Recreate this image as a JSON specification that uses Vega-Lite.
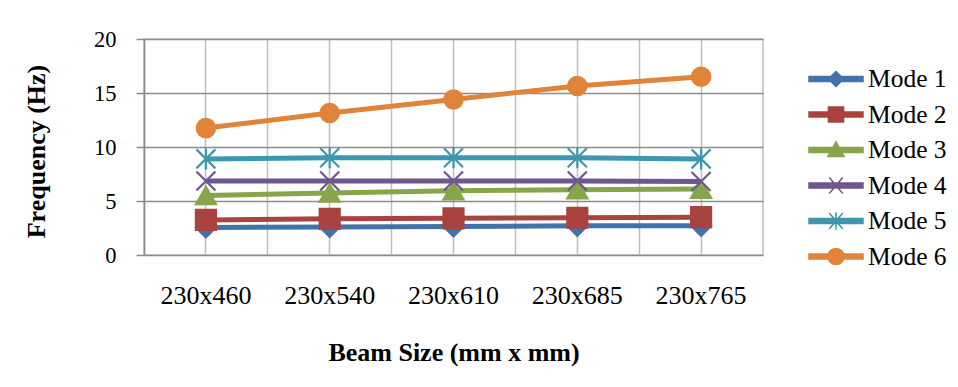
{
  "$schema": "https://vega.github.io/schema/vega-lite/v6.json",
  "autosize": {"type": "none"},
  "padding": {"left": 144, "top": 39, "right": 195, "bottom": 132},
  "width": 619,
  "height": 216,
  "background": "#ffffff",
  "config": {
    "font": "Times New Roman, Liberation Serif, DejaVu Serif, serif",
    "view": {"stroke": "#BFBFBF", "strokeWidth": 1.5}
  },
  "data": {
    "values": [
      {"size": "230x460", "mode": "Mode 1", "freq": 2.55},
      {"size": "230x540", "mode": "Mode 1", "freq": 2.6},
      {"size": "230x610", "mode": "Mode 1", "freq": 2.65},
      {"size": "230x685", "mode": "Mode 1", "freq": 2.7},
      {"size": "230x765", "mode": "Mode 1", "freq": 2.7},
      {"size": "230x460", "mode": "Mode 2", "freq": 3.25},
      {"size": "230x540", "mode": "Mode 2", "freq": 3.35},
      {"size": "230x610", "mode": "Mode 2", "freq": 3.4},
      {"size": "230x685", "mode": "Mode 2", "freq": 3.45},
      {"size": "230x765", "mode": "Mode 2", "freq": 3.5},
      {"size": "230x460", "mode": "Mode 3", "freq": 5.5},
      {"size": "230x540", "mode": "Mode 3", "freq": 5.75},
      {"size": "230x610", "mode": "Mode 3", "freq": 5.95},
      {"size": "230x685", "mode": "Mode 3", "freq": 6.05},
      {"size": "230x765", "mode": "Mode 3", "freq": 6.1},
      {"size": "230x460", "mode": "Mode 4", "freq": 6.85},
      {"size": "230x540", "mode": "Mode 4", "freq": 6.85},
      {"size": "230x610", "mode": "Mode 4", "freq": 6.85},
      {"size": "230x685", "mode": "Mode 4", "freq": 6.85},
      {"size": "230x765", "mode": "Mode 4", "freq": 6.8},
      {"size": "230x460", "mode": "Mode 5", "freq": 8.9},
      {"size": "230x540", "mode": "Mode 5", "freq": 9.0},
      {"size": "230x610", "mode": "Mode 5", "freq": 9.0},
      {"size": "230x685", "mode": "Mode 5", "freq": 9.0},
      {"size": "230x765", "mode": "Mode 5", "freq": 8.9},
      {"size": "230x460", "mode": "Mode 6", "freq": 11.75},
      {"size": "230x540", "mode": "Mode 6", "freq": 13.15},
      {"size": "230x610", "mode": "Mode 6", "freq": 14.4},
      {"size": "230x685", "mode": "Mode 6", "freq": 15.65},
      {"size": "230x765", "mode": "Mode 6", "freq": 16.5}
    ]
  },
  "resolve": {"axis": {"x": "independent"}},
  "layer": [
    {
      "mark": {"type": "line", "strokeWidth": 5},
      "encoding": {
        "x": {
          "field": "size", "type": "nominal",
          "scale": {"type": "band", "paddingInner": 0, "paddingOuter": 0},
          "axis": {
            "orient": "bottom", "bandPosition": 0, "grid": true, "gridColor": "#BFBFBF", "gridWidth": 1.5,
            "labels": false, "ticks": false, "domain": false, "title": null
          }
        },
        "y": {
          "field": "freq", "type": "quantitative",
          "scale": {"domain": [0, 20]},
          "axis": {
            "values": [0, 5, 10, 15, 20],
            "grid": true, "gridColor": "#8C8C8C", "gridWidth": 1.5,
            "domain": true, "domainColor": "#8C8C8C", "domainWidth": 1.5,
            "ticks": true, "tickSize": 8, "tickColor": "#8C8C8C", "tickWidth": 1.5,
            "labelFont": "Times New Roman, Liberation Serif, DejaVu Serif, serif", "labelFontSize": 22.5, "labelColor": "#000000", "labelPadding": 20,
            "title": "Frequency (Hz)", "titleFont": "Times New Roman, Liberation Serif, DejaVu Serif, serif", "titleFontSize": 26, "titleFontWeight": "bold",
            "titleColor": "#000000", "titleX": -108, "titleY": 112, "titleAngle": -90, "titleBaseline": "middle", "titleAlign": "center"
          }
        },
        "color": {
          "field": "mode", "type": "nominal",
          "scale": {
            "domain": ["Mode 1", "Mode 2", "Mode 3", "Mode 4", "Mode 5", "Mode 6"],
            "range": ["#4372AA", "#A9433F", "#87A54A", "#6F568F", "#3D97AF", "#E0843A"]
          },
          "legend": {
            "orient": "none", "legendX": 664, "legendY": 25, "title": null, "padding": 0,
            "symbolSize": 2916, "symbolStrokeWidth": 1.5, "clipHeight": 30, "rowPadding": 5.5, "labelOffset": 4,
            "labelFont": "Times New Roman, Liberation Serif, DejaVu Serif, serif", "labelFontSize": 25.5, "labelColor": "#000000", "labelBaseline": "middle",
            "encode": {
              "symbols": {
                "update": {
                  "shape": {"signal": "datum.value === 'Mode 1' ? 'M-1,-0.09L1,-0.09L1,0.09L-1,0.09Z M0,-0.28L0.28,0L0,0.28L-0.28,0Z' : datum.value === 'Mode 2' ? 'M-1,-0.09L1,-0.09L1,0.09L-1,0.09Z M-0.28,-0.28L0.28,-0.28L0.28,0.28L-0.28,0.28Z' : datum.value === 'Mode 3' ? 'M-1,-0.09L1,-0.09L1,0.09L-1,0.09Z M0,-0.3L0.3,0.24L-0.3,0.24Z' : datum.value === 'Mode 4' ? 'M-1,-0.09L1,-0.09L1,0.09L-1,0.09Z M-0.25,-0.3L0.25,0.3 M-0.25,0.3L0.25,-0.3' : datum.value === 'Mode 5' ? 'M-1,-0.09L1,-0.09L1,0.09L-1,0.09Z M-0.25,-0.3L0.25,0.3 M-0.25,0.3L0.25,-0.3 M0,-0.32L0,0.32' : 'M-1,-0.09L1,-0.09L1,0.09L-1,0.09Z M0.3,0A0.3,0.3,0,1,1,-0.3,0A0.3,0.3,0,1,1,0.3,0Z'"},
                  "size": {"value": 2916},
                  "fill": {"scale": "color", "field": "value"},
                  "stroke": {"scale": "color", "field": "value"},
                  "strokeWidth": {"value": 1.5},
                  "opacity": {"value": 1},
                  "fillOpacity": {"value": 1}
                }
              }
            }
          }
        }
      }
    },
    {
      "mark": {"type": "point", "filled": true, "strokeWidth": 2.2, "opacity": 1, "size": 400},
      "encoding": {
        "x": {
          "field": "size", "type": "nominal",
          "axis": {
            "orient": "bottom", "grid": true, "gridColor": "#BFBFBF", "gridWidth": 1.5,
            "ticks": false, "domain": false, "labelAngle": 0,
            "labelFont": "Times New Roman, Liberation Serif, DejaVu Serif, serif", "labelFontSize": 26, "labelColor": "#000000", "labelPadding": 40, "labelBaseline": "middle",
            "title": "Beam Size (mm x mm)", "titleFont": "Times New Roman, Liberation Serif, DejaVu Serif, serif", "titleFontSize": 26, "titleFontWeight": "bold",
            "titleColor": "#000000", "titleY": 97, "titleBaseline": "middle"
          }
        },
        "y": {"field": "freq", "type": "quantitative"},
        "fill": {"field": "mode", "type": "nominal", "scale": {
            "range": ["#4372AA", "#A9433F", "#87A54A", "#6F568F", "#3D97AF", "#E0843A"]
          }, "legend": null},
        "stroke": {"field": "mode", "type": "nominal", "scale": {
            "range": ["#4372AA", "#A9433F", "#87A54A", "#6F568F", "#3D97AF", "#E0843A"]
          }, "legend": null},
        "shape": {
          "field": "mode", "type": "nominal",
          "scale": {
            "range": ["diamond", "square", "triangle-up", "M-0.95,-0.95L0.95,0.95M-0.95,0.95L0.95,-0.95", "M-0.95,-0.95L0.95,0.95M-0.95,0.95L0.95,-0.95M0,-1.05L0,1.05", "M0.92,0A0.92,0.92,0,1,1,-0.92,0A0.92,0.92,0,1,1,0.92,0Z"]
          },
          "legend": null
        }
      }
    }
  ]
}
